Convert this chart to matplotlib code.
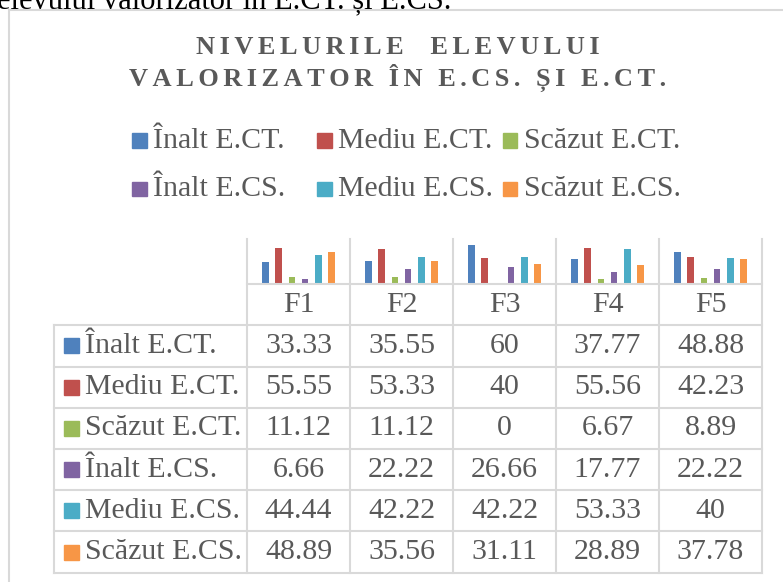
import matplotlib
matplotlib.use('Agg')
import matplotlib.pyplot as plt
from matplotlib.lines import Line2D
from matplotlib.patches import Rectangle
from matplotlib.transforms import blended_transform_factory
import numpy as np

plt.rcParams['font.family'] = ['Liberation Serif', 'DejaVu Serif']

categories = ['F1', 'F2', 'F3', 'F4', 'F5']
series_names = ['Înalt E.CT.', 'Mediu E.CT.', 'Scăzut E.CT.',
                'Înalt E.CS.', 'Mediu E.CS.', 'Scăzut E.CS.']
inalt_ect = [33.33, 35.55, 60, 37.77, 48.88]
mediu_ect = [55.55, 53.33, 40, 55.56, 42.23]
scazut_ect = [11.12, 11.12, 0, 6.67, 8.89]
inalt_ecs = [6.66, 22.22, 26.66, 17.77, 22.22]
mediu_ecs = [44.44, 42.22, 42.22, 53.33, 40]
scazut_ecs = [48.89, 35.56, 31.11, 28.89, 37.78]
series_vals = [inalt_ect, mediu_ect, scazut_ect, inalt_ecs, mediu_ecs, scazut_ecs]
colors = ['#4F81BD', '#C0504D', '#9BBB59', '#8064A2', '#4BACC6', '#F79646']

txt = '#595959'
grid = '#d9d9d9'
W, H = 783, 582
fs = 21.5


def fx(px):
    return px / W


def fy(py):
    return 1 - py / H


def spaced(s):
    # expanded letter spacing like the Excel title
    return '\u200a\u200a'.join(s)


fig = plt.figure(figsize=(W / 100, H / 100), dpi=100)

# cut-off line of the document text above the chart
fig.text(fx(-3), fy(8.0), 'elevului valorizator în E.CT. și E.CS.', fontsize=22,
         color='black', va='baseline', ha='left')

# chart frame
fig.add_artist(Rectangle((fx(9), -0.2), 2, fy(10) + 0.2, transform=fig.transFigure,
                         fill=False, ec=grid, lw=1.5))

# title
fig.text(fx(398), fy(54.3), spaced('NIVELURILE  ELEVULUI'), fontsize=19,
         fontweight='bold', color=txt, ha='center', va='baseline')
fig.text(fx(398), fy(85.7), spaced('VALORIZATOR ÎN E.CS. ȘI E.CT.'), fontsize=19,
         fontweight='bold', color=txt, ha='center', va='baseline')

# legend
leg_x = [132.3, 317.3, 502.5]
leg_y = [140.5, 189]
for i, name in enumerate(series_names):
    lx = leg_x[i % 3]
    ly = leg_y[i // 3]
    fig.add_artist(Rectangle((fx(lx), fy(ly + 7.2)), 14.4 / W, 14.4 / H,
                             transform=fig.transFigure, color=colors[i]))
    fig.text(fx(lx + 21), fy(ly), name, fontsize=fs, color=txt, ha='left', va='center')

# bars
ax = fig.add_axes([fx(247), fy(283.7), (762 - 247) / W, 45 / H])
x = np.arange(len(categories))
for i, vals in enumerate(series_vals):
    ax.bar(x + (i - 2.5) * 0.129, vals, width=0.063, color=colors[i], label=series_names[i])
ax.set_xlim(-0.5, len(categories) - 0.5)
ax.set_ylim(0, 70)
ax.axis('off')
ax.axhline(0, color=grid, lw=1.5, clip_on=False)

# data table
trans = blended_transform_factory(ax.transData, fig.transFigure)
row_top = 325.3
row_h = 41.23
table_bottom = row_top + row_h * len(series_names)
for xb in np.arange(len(categories) + 1) - 0.5:
    fig.add_artist(Line2D([xb, xb], [fy(238.7), fy(table_bottom)], transform=trans,
                          color=grid, lw=1.5))
fig.add_artist(Line2D([fx(54), fx(54)], [fy(row_top), fy(table_bottom)],
                      transform=fig.transFigure, color=grid, lw=1.5))
for k in range(len(series_names) + 1):
    yy = fy(row_top + k * row_h)
    fig.add_artist(Line2D([fx(54), fx(762)], [yy, yy], transform=fig.transFigure,
                          color=grid, lw=1.5))

for j, c in enumerate(categories):
    ax.text(j, fy(304.5), c, transform=trans, fontsize=fs, color=txt,
            ha='center', va='center')

for i, (name, vals) in enumerate(zip(series_names, series_vals)):
    yc = row_top + (i + 0.5) * row_h
    fig.add_artist(Rectangle((fx(64), fy(yc + 7.5)), 15 / W, 15 / H,
                             transform=fig.transFigure, color=colors[i]))
    fig.text(fx(85), fy(yc), name, fontsize=fs, color=txt, ha='left', va='center')
    for j, v in enumerate(vals):
        ax.text(j, fy(yc), f'{v:g}', transform=trans, fontsize=fs, color=txt,
                ha='center', va='center')

fig.savefig('out.png', dpi=100)
